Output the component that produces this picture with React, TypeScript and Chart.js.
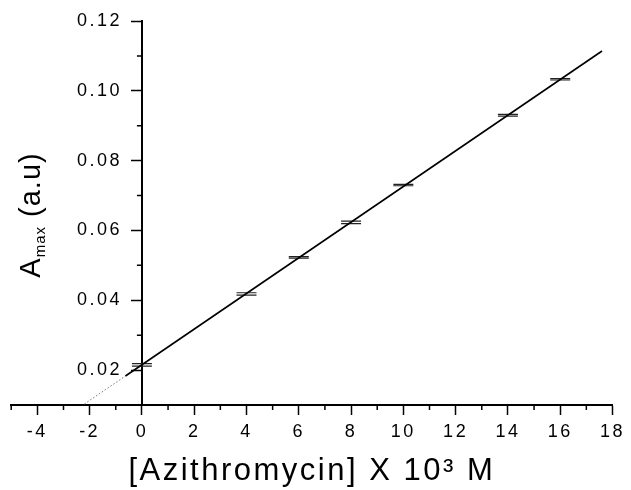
import React, { useEffect, useRef } from "react";
import { Chart, registerables, LinearScale } from "chart.js";

Chart.register(...registerables);

class CrossLinearScale extends (LinearScale as any) {
  static id = "crossLinear";
  static defaults = (LinearScale as any).defaults;
  _computeLabelItems(chartArea: any) {
    const items = super._computeLabelItems(chartArea);
    const pos = (this as any).options.position;
    if (!(this as any).isHorizontal() && typeof pos === "object") {
      const shift = (this as any).options.grid.tickLength + (this as any).options.ticks.padding;
      items.forEach((it: any) => {
        it.options.translation[0] -= shift;
      });
    }
    return items;
  }
}
Chart.register(CrossLinearScale as any);

const concentrations = [0, 4, 6, 8, 10, 14, 16];
const absorbance = [0.0215, 0.0418, 0.0523, 0.0623, 0.073, 0.093, 0.1033];
const errors = [0.00035, 0.00035, 0.0002, 0.00035, 0.0002, 0.00025, 0.0002];

const fitX = [-0.63, 17.6];
const fitY = [0.0183, 0.1114];
const extX = [-2.2, -0.63];
const extY = [0.0103, 0.0183];

const xMajorTicks = [-4, -2, 0, 2, 4, 6, 8, 10, 12, 14, 16, 18];
const xMinorTicks = [-5, -3, -1, 1, 3, 5, 7, 9, 11, 13, 15, 17];
const yMajorTicks = [0.02, 0.04, 0.06, 0.08, 0.1, 0.12];
const yMinorTicks = [0.03, 0.05, 0.07, 0.09, 0.11];

const xTitle = "[Azithromycin] X 10\u00B3 M";
const yTitleMain = "A";
const yTitleSub = "max";
const yTitleRest = " (a.u)";

const FONT = "'Liberation Sans', Arial, Helvetica, sans-serif";

export default function App() {
  const ref = useRef<HTMLCanvasElement | null>(null);

  useEffect(() => {
    const canvas = ref.current;
    if (!canvas) return;
    document.body.style.margin = "0";

    const spacingPlugin = {
      id: "spacing",
      beforeLayout(chart: any) {
        (chart.ctx as any).letterSpacing = "2.5px";
      },
      beforeDraw(chart: any) {
        (chart.ctx as any).letterSpacing = "2.5px";
      },
    };

    const minorTicksPlugin = {
      id: "minorTicks",
      afterDraw(chart: any) {
        const ctx = chart.ctx;
        const xs = chart.scales.x;
        const ys = chart.scales.y;
        const axisY = ys.getPixelForValue(0.01);
        const axisX = xs.getPixelForValue(0);
        ctx.save();
        ctx.strokeStyle = "#000";
        ctx.lineWidth = 1.5;
        ctx.beginPath();
        xMinorTicks.forEach((v) => {
          const px = xs.getPixelForValue(v);
          ctx.moveTo(px, axisY);
          ctx.lineTo(px, axisY + 5);
        });
        yMinorTicks.forEach((v) => {
          const py = ys.getPixelForValue(v);
          ctx.moveTo(axisX, py);
          ctx.lineTo(axisX - 5, py);
        });
        ctx.stroke();
        ctx.restore();
      },
    };

    const yTitlePlugin = {
      id: "yTitle",
      afterDraw(chart: any) {
        const ctx = chart.ctx;
        ctx.save();
        (ctx as any).letterSpacing = "1px";
        ctx.fillStyle = "#000";
        ctx.textBaseline = "alphabetic";
        ctx.textAlign = "left";
        const big = `29px ${FONT}`;
        const small = `15px ${FONT}`;
        ctx.font = big;
        const wA = ctx.measureText(yTitleMain).width;
        const wR = ctx.measureText(yTitleRest).width;
        ctx.font = small;
        const wS = ctx.measureText(yTitleSub).width;
        const total = wA + wS + wR;
        ctx.translate(40, 215);
        ctx.rotate(-Math.PI / 2);
        let x = -total / 2;
        ctx.font = big;
        ctx.fillText(yTitleMain, x, 0);
        x += wA;
        ctx.font = small;
        ctx.fillText(yTitleSub, x, 5);
        x += wS;
        ctx.font = big;
        ctx.fillText(yTitleRest, x, 0);
        ctx.restore();
      },
    };

    const errUpper = absorbance.map((v, i) => ({ x: concentrations[i], y: v + errors[i] }));
    const errLower = absorbance.map((v, i) => ({ x: concentrations[i], y: v - errors[i] }));

    const chart = new Chart(canvas, {
      type: "scatter",
      data: {
        datasets: [
          {
            label: "fit",
            data: fitX.map((x, i) => ({ x, y: fitY[i] })),
            showLine: true,
            borderColor: "#000",
            borderWidth: 1.6,
            pointRadius: 0,
          },
          {
            label: "extrapolation",
            data: extX.map((x, i) => ({ x, y: extY[i] })),
            showLine: true,
            borderColor: "#777",
            borderWidth: 1,
            borderDash: [1.5, 2],
            pointRadius: 0,
          },
          {
            label: "upper",
            data: errUpper,
            showLine: false,
            pointStyle: "line",
            pointRadius: 10,
            pointBorderWidth: 1.2,
            pointBorderColor: "#222",
          },
          {
            label: "lower",
            data: errLower,
            showLine: false,
            pointStyle: "line",
            pointRadius: 10,
            pointBorderWidth: 1.2,
            pointBorderColor: "#222",
          },
        ],
      },
      options: {
        animation: false,
        responsive: false,
        events: [],
        layout: { padding: { left: 9, right: 12, top: 21, bottom: 0 } },
        plugins: {
          legend: { display: false },
          tooltip: { enabled: false },
        },
        scales: {
          x: {
            type: "linear",
            position: "bottom",
            min: -5,
            max: 18,
            afterBuildTicks: (s: any) => {
              s.ticks = xMajorTicks.map((v) => ({ value: v }));
            },
            afterFit: (s: any) => {
              s.height = 85;
            },
            grid: {
              drawOnChartArea: false,
              drawTicks: true,
              tickLength: 10,
              tickColor: "#000",
              tickWidth: 1.5,
            },
            border: { color: "#000", width: 2 },
            ticks: {
              color: "#000",
              padding: 6,
              maxRotation: 0,
              autoSkip: false,
              font: { family: FONT, size: 18 },
              callback: (v: any) => String(v),
            },
            title: {
              display: true,
              text: xTitle,
              color: "#000",
              font: { family: FONT, size: 31 },
              padding: { top: 0, bottom: 0 },
            },
          },
          y: {
            type: "crossLinear",
            position: { x: 0 } as any,
            min: 0.01,
            max: 0.12,
            afterBuildTicks: (s: any) => {
              s.ticks = yMajorTicks.map((v) => ({ value: v }));
            },
            afterFit: (s: any) => {
              s.width = 0;
            },
            grid: {
              drawOnChartArea: false,
              drawTicks: true,
              tickLength: 10,
              tickColor: "#000",
              tickWidth: 1.5,
            },
            border: { color: "#000", width: 2 },
            ticks: {
              color: "#000",
              padding: 10,
              autoSkip: false,
              font: { family: FONT, size: 18 },
              callback: (v: any) => Number(v).toFixed(2),
            },
          } as any,
        },
      },
      plugins: [spacingPlugin, minorTicksPlugin, yTitlePlugin],
    });

    return () => {
      chart.destroy();
    };
  }, []);

  return (
    <div style={{ position: "absolute", left: 0, top: 0, width: 631, height: 490 }}>
      <canvas ref={ref} width={631} height={490} style={{ width: 631, height: 490 }} />
    </div>
  );
}
